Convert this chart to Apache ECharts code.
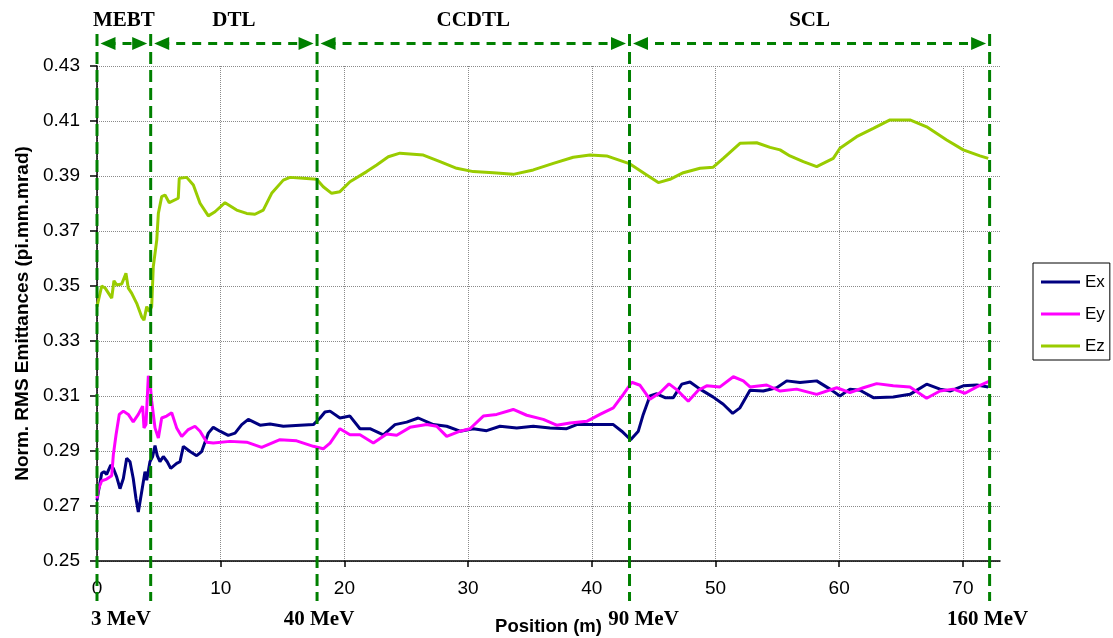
<!DOCTYPE html>
<html><head><meta charset="utf-8">
<script src="https://cdn.jsdelivr.net/npm/echarts@6/dist/echarts.min.js"></script>
<style>html,body{margin:0;padding:0;background:#fff}#c{width:1113px;height:638px}</style>
</head><body><div id="c"></div>
<script>
// ---- data ----
const xTicks = [0, 10, 20, 30, 40, 50, 60, 70];
const yTicks = [0.25, 0.27, 0.29, 0.31, 0.33, 0.35, 0.37, 0.39, 0.41, 0.43];
const sections = ['MEBT', 'DTL', 'CCDTL', 'SCL'];
const boundaries = [0, 4.34, 17.79, 43.05, 72.16];
const energyLabels = ['3 MeV', '40 MeV', '90 MeV', '160 MeV'];
const energyAt = [0, 17.79, 43.05, 72.16];

const exData = [[0,0.2721],[0.11,0.2751],[0.38,0.2819],[0.57,0.2825],[0.78,0.2815],[1.11,0.2849],[1.32,0.2837],[1.59,0.2806],[1.86,0.2763],[2.13,0.2800],[2.4,0.2874],[2.67,0.2861],[2.93,0.2800],[3.15,0.2727],[3.34,0.2678],[3.61,0.2751],[3.88,0.2825],[4.02,0.2794],[4.15,0.2800],[4.28,0.2861],[4.5,0.2880],[4.69,0.2920],[4.87,0.2883],[5.09,0.2861],[5.36,0.2880],[5.68,0.2861],[5.96,0.2837],[6.44,0.2855],[6.71,0.2861],[6.98,0.2917],[7.52,0.2898],[8.06,0.2883],[8.46,0.2898],[9.0,0.2965],[9.4,0.2986],[9.94,0.2972],[10.61,0.2957],[11.16,0.2965],[11.7,0.2996],[12.23,0.3015],[13.18,0.2994],[13.99,0.2998],[15.06,0.2990],[16.41,0.2994],[17.49,0.2996],[18.03,0.3020],[18.43,0.3042],[18.84,0.3045],[19.64,0.3020],[20.45,0.3027],[21.26,0.2981],[22.07,0.2981],[23.15,0.2959],[24.09,0.2996],[25.04,0.3005],[25.97,0.3020],[27.19,0.2996],[28.27,0.2990],[29.35,0.2972],[30.42,0.2981],[31.5,0.2974],[32.58,0.2990],[33.93,0.2984],[35.27,0.2990],[36.62,0.2984],[37.97,0.2981],[38.78,0.2996],[40.12,0.2996],[41.74,0.2996],[42.42,0.2972],[43.14,0.2941],[43.76,0.2972],[44.16,0.3033],[44.7,0.3100],[45.25,0.3108],[45.92,0.3094],[46.59,0.3094],[47.27,0.3143],[47.94,0.3151],[48.75,0.3125],[49.82,0.3096],[50.63,0.3070],[51.39,0.3037],[51.98,0.3057],[52.79,0.3121],[53.86,0.3118],[54.95,0.3130],[55.76,0.3155],[56.83,0.3149],[58.18,0.3155],[59.26,0.3125],[60.06,0.3100],[60.87,0.3125],[61.68,0.3121],[62.76,0.3094],[64.37,0.3096],[65.72,0.3106],[67.07,0.3143],[68.15,0.3125],[68.96,0.3118],[70.03,0.3137],[71.12,0.3140],[72.05,0.3133]];

const eyData = [[0,0.2727],[0.11,0.2761],[0.38,0.2791],[0.78,0.2798],[1.19,0.2810],[1.32,0.2886],[1.54,0.2959],[1.8,0.3033],[2.13,0.3045],[2.53,0.3033],[2.93,0.3006],[3.34,0.3033],[3.69,0.3063],[3.8,0.2984],[3.96,0.2996],[4.15,0.3173],[4.28,0.3155],[4.42,0.3082],[4.69,0.2984],[4.96,0.2947],[5.23,0.3020],[5.63,0.3027],[6.04,0.3039],[6.44,0.2984],[6.85,0.2953],[7.38,0.2978],[7.92,0.2990],[8.33,0.2972],[8.87,0.2932],[9.4,0.2929],[10.75,0.2935],[12.1,0.2932],[13.31,0.2913],[14.79,0.2941],[16.14,0.2937],[17.49,0.2917],[18.29,0.2908],[18.84,0.2929],[19.64,0.2981],[20.45,0.2959],[21.26,0.2959],[22.34,0.2929],[23.42,0.2962],[24.23,0.2957],[25.3,0.2986],[26.65,0.2996],[27.46,0.2990],[28.27,0.2953],[29.35,0.2972],[30.15,0.2981],[31.23,0.3027],[32.31,0.3033],[33.65,0.3051],[34.74,0.3030],[36.08,0.3015],[37.16,0.2994],[38.24,0.3002],[39.59,0.3008],[40.66,0.3033],[41.74,0.3057],[42.55,0.3106],[43.23,0.3150],[43.9,0.3139],[44.7,0.3088],[45.51,0.3112],[46.24,0.3144],[46.86,0.3123],[47.8,0.3081],[48.61,0.3121],[49.29,0.3137],[50.36,0.3133],[51.44,0.3170],[52.25,0.3155],[52.79,0.3133],[54.14,0.3140],[55.22,0.3118],[56.56,0.3125],[58.18,0.3106],[59.8,0.3130],[60.87,0.3112],[61.95,0.3130],[63.03,0.3145],[64.37,0.3137],[65.72,0.3133],[67.07,0.3092],[68.15,0.3118],[69.23,0.3125],[70.17,0.3110],[71.12,0.3133],[72.2,0.3155]];

const ezData = [[0,0.3425],[0.38,0.3500],[0.65,0.3493],[1.19,0.3456],[1.37,0.3519],[1.59,0.3504],[2.0,0.3507],[2.34,0.3546],[2.53,0.3492],[2.8,0.3474],[3.21,0.3437],[3.61,0.3388],[3.8,0.3376],[4.02,0.3425],[4.23,0.3407],[4.42,0.3425],[4.55,0.3570],[4.83,0.3667],[4.96,0.3764],[5.23,0.3825],[5.5,0.3831],[5.84,0.3803],[6.57,0.3819],[6.65,0.3892],[7.25,0.3895],[7.79,0.3867],[8.33,0.3801],[9.0,0.3755],[9.54,0.3770],[10.35,0.3803],[11.29,0.3776],[12.1,0.3764],[12.77,0.3761],[13.44,0.3776],[14.12,0.3837],[15.06,0.3885],[15.6,0.3895],[16.68,0.3892],[17.76,0.3888],[18.29,0.3861],[18.97,0.3837],[19.64,0.3843],[20.45,0.3879],[21.8,0.3916],[22.61,0.3940],[23.55,0.3970],[24.49,0.3983],[26.38,0.3976],[27.73,0.3952],[29.08,0.3928],[30.42,0.3916],[32.04,0.3912],[33.65,0.3906],[35.27,0.3922],[36.89,0.3946],[38.5,0.3968],[39.85,0.3976],[41.2,0.3973],[43.09,0.3944],[44.44,0.3904],[45.38,0.3876],[46.32,0.3888],[47.4,0.3912],[48.75,0.3928],[49.82,0.3932],[50.63,0.3964],[51.98,0.4019],[53.33,0.4021],[54.41,0.4004],[55.22,0.3995],[56.02,0.3973],[57.1,0.3952],[58.18,0.3934],[59.52,0.3964],[60.06,0.4001],[61.41,0.4043],[62.76,0.4073],[64.11,0.4104],[65.72,0.4104],[67.07,0.4079],[68.69,0.4031],[70.03,0.3995],[71.38,0.3973],[72.05,0.3964]];

// ---- chart ----
const GREEN = '#008000';
const FONT = 'Liberation Sans';
const chart = echarts.init(document.getElementById('c'), null, {renderer: 'canvas'});

function lineSeries(name, data, color, z) {
  return {name, type: 'line', data, showSymbol: false, symbol: 'none', z,
    lineStyle: {color, width: 3}, itemStyle: {color}, animation: false};
}

chart.setOption({
  animation: false,
  backgroundColor: '#fff',
  grid: {left: 97, top: 66, right: 113, bottom: 77, containLabel: false, outerBoundsMode: 'none'},
  legend: {
    orient: 'vertical', left: 1033, top: 263, icon: 'rect', itemWidth: 39, itemHeight: 3,
    itemGap: 12, padding: [9, 5, 4, 8], borderColor: '#000', borderWidth: 1, borderRadius: 0,
    textStyle: {fontFamily: FONT, fontSize: 17, color: '#000', lineHeight: 20},
    data: ['Ex', 'Ey', 'Ez']
  },
  xAxis: {
    type: 'value', min: 0, max: 73,
    name: 'Position (m)', nameLocation: 'middle', nameGap: 56,
    nameTextStyle: {fontFamily: FONT, fontWeight: 'bold', fontSize: 18.5, color: '#000'},
    axisLine: {show: true, onZero: false, lineStyle: {color: '#000', width: 1.5}},
    axisTick: {show: true, length: 6, customValues: xTicks, lineStyle: {color: '#000', width: 1.5}},
    axisLabel: {customValues: xTicks, fontFamily: FONT, fontSize: 19, color: '#000', margin: 18},
    splitLine: {show: true, lineStyle: {color: '#8a8a8a', type: 'dotted', width: 1}}
  },
  yAxis: {
    type: 'value', min: 0.25, max: 0.43,
    name: 'Norm. RMS Emittances (pi.mm.mrad)', nameLocation: 'middle', nameGap: 65, nameRotate: 90,
    nameTextStyle: {fontFamily: FONT, fontWeight: 'bold', fontSize: 19, color: '#000'},
    axisLine: {show: true, lineStyle: {color: '#000', width: 1.5}},
    axisTick: {show: true, length: 7, customValues: yTicks, lineStyle: {color: '#000', width: 1.5}},
    axisLabel: {customValues: yTicks, fontFamily: FONT, fontSize: 19, color: '#000', margin: 17,
      formatter: v => Number(v).toFixed(2)},
    splitLine: {show: true, lineStyle: {color: '#8a8a8a', type: 'dotted', width: 1}}
  },
  series: [
    lineSeries('Ex', exData, '#000080', 3),
    lineSeries('Ey', eyData, '#FF00FF', 4),
    lineSeries('Ez', ezData, '#99CC00', 2)
  ]
});

// ---- annotations (dashed section markers) ----
function annotate() {
  const px = v => chart.convertToPixel({xAxisIndex: 0}, v);
  const g = [];
  const lineTop = 34, lineBot = 601, arrowY = 43.5, labelY = 21, energyY = 620;
  const serif = 'bold 21px "Liberation Serif"';
  boundaries.forEach(b => {
    const x = px(b);
    g.push({type: 'line', z: 100, silent: true,
      shape: {x1: x, y1: lineTop, x2: x, y2: lineBot},
      style: {stroke: GREEN, lineWidth: 3, lineDash: [12, 6]}});
  });
  for (let i = 0; i < sections.length; i++) {
    const xa = px(boundaries[i]) + 3.5, xb = px(boundaries[i + 1]) - 3.5;
    g.push({type: 'line', z: 100, silent: true,
      shape: {x1: xa + 6, y1: arrowY, x2: xb - 6, y2: arrowY},
      style: {stroke: GREEN, lineWidth: 3, lineDash: [9, 7]}});
    g.push({type: 'polygon', z: 101, silent: true,
      shape: {points: [[xa, arrowY], [xa + 15, arrowY - 6.5], [xa + 15, arrowY + 6.5]]},
      style: {fill: GREEN}});
    g.push({type: 'polygon', z: 101, silent: true,
      shape: {points: [[xb, arrowY], [xb - 15, arrowY - 6.5], [xb - 15, arrowY + 6.5]]},
      style: {fill: GREEN}});
    g.push({type: 'text', z: 102, silent: true, x: (xa + xb) / 2, y: labelY,
      style: {text: sections[i], font: serif, fill: '#000', align: 'center', verticalAlign: 'middle',
        textAlign: 'center', textVerticalAlign: 'middle'}});
  }
  const offs = [24, 2, 14, -2];
  energyLabels.forEach((t, i) => {
    g.push({type: 'text', z: 102, silent: true, x: px(energyAt[i]) + offs[i], y: energyY,
      style: {text: t, font: serif, fill: '#000', align: 'center', verticalAlign: 'middle',
        textAlign: 'center', textVerticalAlign: 'middle'}});
  });
  chart.setOption({graphic: g});
}
annotate();
</script></body></html>
